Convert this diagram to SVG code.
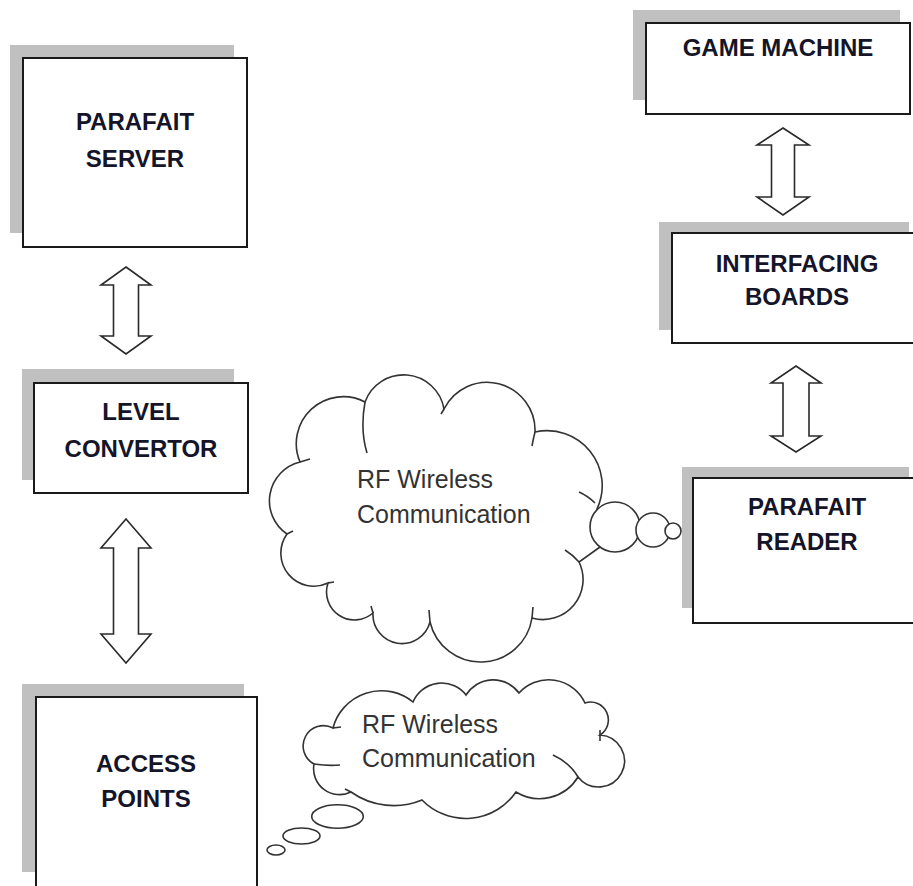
<svg xmlns="http://www.w3.org/2000/svg" width="913" height="886" viewBox="0 0 913 886">
<style>
.shadow{fill:#c0c0c0;stroke:none}
.box{fill:#fff;stroke:#1a1a1a;stroke-width:2}
.lbl{font-family:"Liberation Sans",Arial,sans-serif;font-weight:bold;font-size:24px;fill:#15152a;text-anchor:middle}
.cl{font-family:"Liberation Sans",Arial,sans-serif;font-size:25px;fill:#333}
.arrow{fill:#fff;stroke:#2a2a2a;stroke-width:1.6;stroke-linejoin:miter}
.cloud{fill:#fff;stroke:#333;stroke-width:1.6}
.tail{fill:none;stroke:#333;stroke-width:1.6}
</style>
<rect width="913" height="886" fill="#fff"/>

<g id="parafait-server">
<rect class="shadow" x="10" y="45" width="224" height="188"/>
<rect class="box" x="23" y="58" width="224" height="189"/>
<text class="lbl" x="135" y="130">PARAFAIT</text>
<text class="lbl" x="135" y="167">SERVER</text>
</g>

<g id="level-convertor">
<rect class="shadow" x="22" y="369" width="212" height="111"/>
<rect class="box" x="34" y="383" width="214" height="110"/>
<text class="lbl" x="141" y="420">LEVEL</text>
<text class="lbl" x="141" y="457">CONVERTOR</text>
</g>

<g id="access-points">
<rect class="shadow" x="22" y="684" width="222" height="188"/>
<rect class="box" x="36" y="697" width="221" height="200"/>
<text class="lbl" x="146" y="772">ACCESS</text>
<text class="lbl" x="146" y="807">POINTS</text>
</g>

<g id="game-machine">
<rect class="shadow" x="633" y="10" width="267" height="90"/>
<rect class="box" x="646" y="23" width="264" height="91"/>
<text class="lbl" x="778" y="56">GAME MACHINE</text>
</g>

<g id="interfacing-boards">
<rect class="shadow" x="659" y="222" width="250" height="108"/>
<rect class="box" x="672" y="233" width="250" height="110"/>
<text class="lbl" x="797" y="272">INTERFACING</text>
<text class="lbl" x="797" y="305">BOARDS</text>
</g>

<g id="parafait-reader">
<rect class="shadow" x="682" y="467" width="227" height="141"/>
<rect class="box" x="693" y="478" width="229" height="145"/>
<text class="lbl" x="807" y="515">PARAFAIT</text>
<text class="lbl" x="807" y="550">READER</text>
</g>

<g id="connectors">
<path class="arrow" d="M126,267 L151,285 L138.5,285 L138.5,336 L151,336 L126,354 L101,336 L113.5,336 L113.5,285 L101,285 Z"/>
<path class="arrow" d="M126,519 L151,548 L138.5,548 L138.5,634 L151,634 L126,663 L101,634 L113.5,634 L113.5,548 L101,548 Z"/>
<path class="arrow" d="M783,128 L809,145 L794.5,145 L794.5,197 L809,197 L783,215 L757,197 L771.5,197 L771.5,145 L757,145 Z"/>
<path class="arrow" d="M796,366 L821,383 L809,383 L809,436 L821,436 L796,452 L771,436 L783,436 L783,383 L771,383 Z"/>
</g>

<g id="cloud-reader">
<path class="cloud" d="M300,462 A47,47 0 0 1 365,402 A41,41 0 0 1 444,409 A48,48 0 0 1 535,432 A55,55 0 0 1 597,509 L600,547 L579,562 A40,40 0 0 1 532,618 A52,52 0 0 1 430,622 A29,29 0 0 1 373,613 A28,28 0 0 1 328,583 A33,33 0 0 1 287,534 A40,40 0 0 1 300,462 Z"/>
<path class="tail" d="M365,402 Q360,430 367,453 M444,409 L441,414 M535,432 Q533,440 532,446 M595,503 Q588,496 579,492 M579,562 Q573,555 565,550 M532,618 L533,607 M430,622 L429,610 M373,613 L371,606 M328,583 L334,582 M287,534 L293,531 M300,462 L310,459"/>
<circle class="cloud" cx="615" cy="527" r="25"/>
<circle class="cloud" cx="653" cy="530" r="17"/>
<circle class="cloud" cx="673" cy="531" r="8"/>
<text class="cl" x="357" y="488">RF Wireless</text>
<text class="cl" x="357" y="523">Communication</text>
</g>

<g id="cloud-access">
<path class="cloud" d="M314,764 A20.2,20.2 0 0 1 333,728 A50,50 0 0 1 413,702 A31,31 0 0 1 466,695 A32,32 0 0 1 519,693 A40,40 0 0 1 585,703 A17.8,17.8 0 0 1 600,735 A26,26 0 1 1 578,777 A45,45 0 0 1 516,792 A61,61 0 0 1 422,800 A74,74 0 0 1 351,792 A26,26 0 0 1 314,764 Z"/>
<path class="tail" d="M333,728 L341,727 M314,764 Q328,766 340,765 M600,730 L600,741 M578,777 Q570,763 553,755 M351,792 L345,789"/>
<ellipse class="cloud" cx="337.5" cy="816.5" rx="25.8" ry="11.7"/>
<ellipse class="cloud" cx="301.5" cy="836" rx="18.5" ry="8"/>
<ellipse class="cloud" cx="276" cy="850" rx="9" ry="5"/>
<text class="cl" x="362" y="733">RF Wireless</text>
<text class="cl" x="362" y="767">Communication</text>
</g>
</svg>
